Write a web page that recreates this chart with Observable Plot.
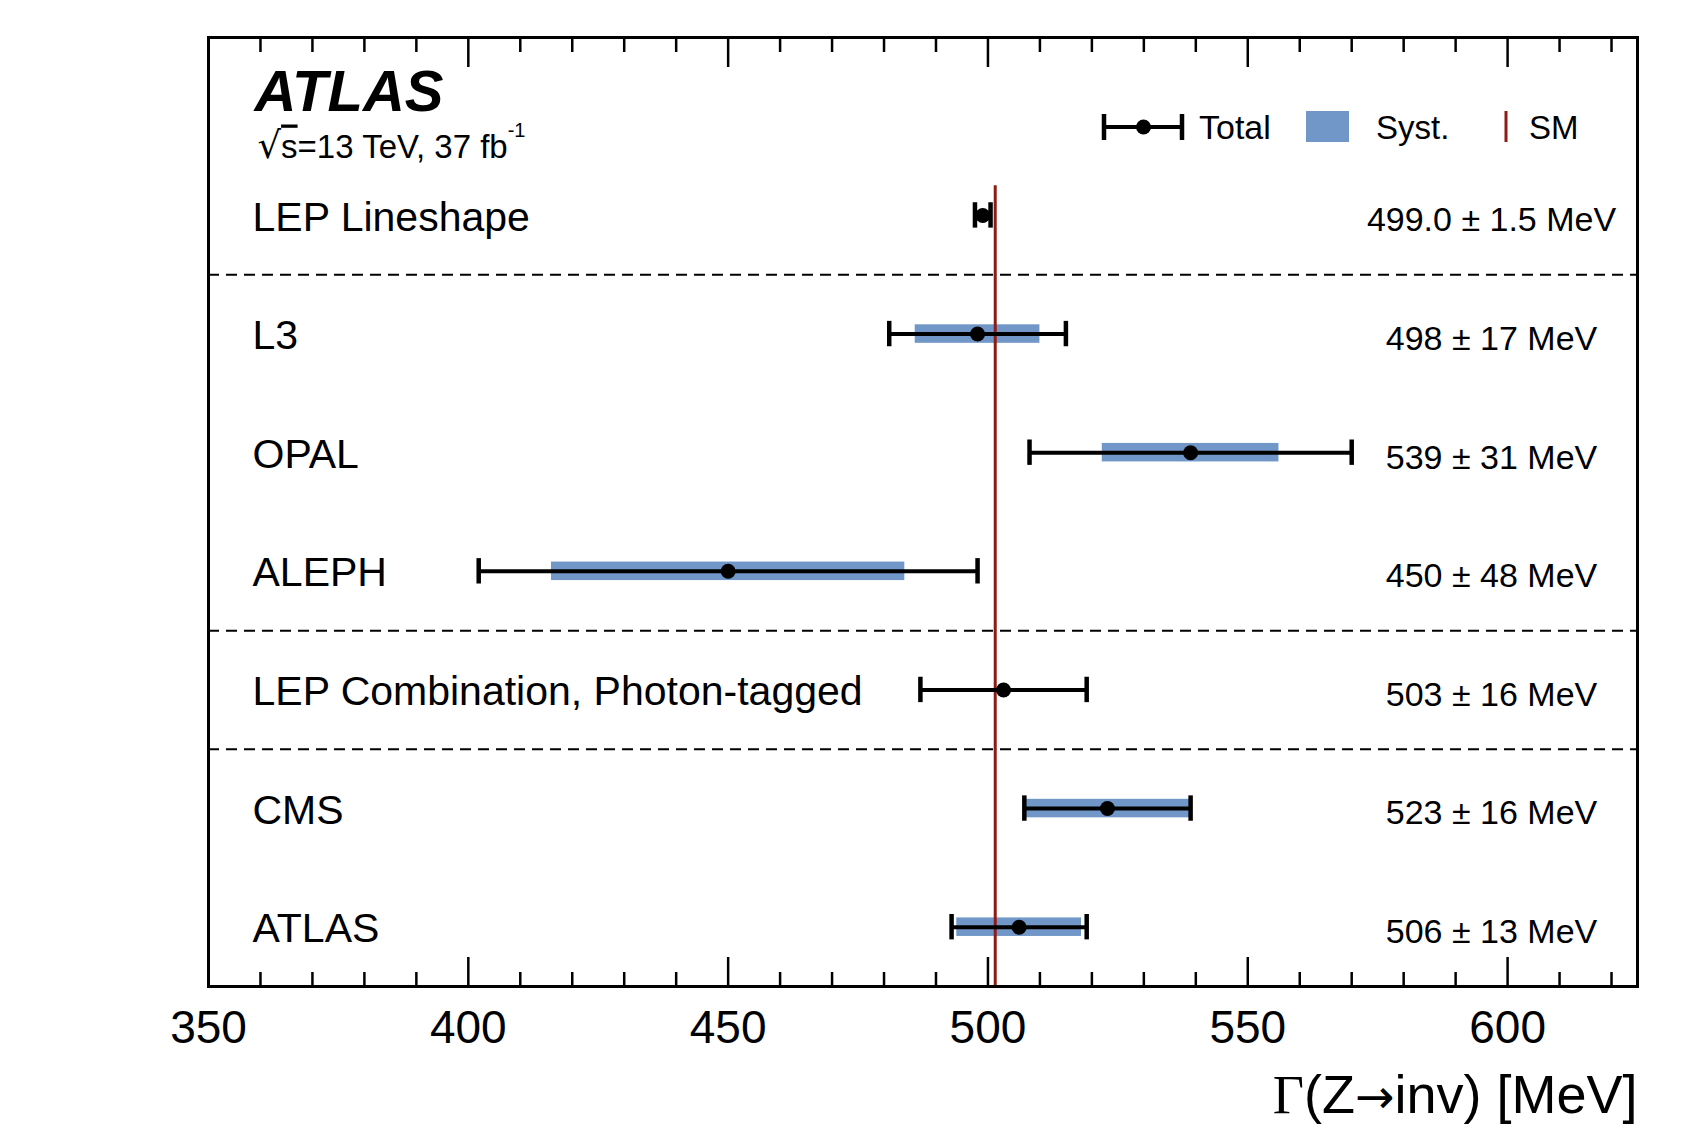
<!DOCTYPE html>
<html>
<head>
<meta charset="utf-8">
<script src="https://cdn.jsdelivr.net/npm/d3@7"></script>
<script src="https://cdn.jsdelivr.net/npm/@observablehq/plot@0.6"></script>
<style>
  html, body { margin: 0; padding: 0; background: #fff; }
  #chart svg { display: block; }
</style>
</head>
<body>
<div id="chart"></div>
<script>
// ---------------- data ----------------
const experiments = [
  "LEP Lineshape",
  "L3",
  "OPAL",
  "ALEPH",
  "LEP Combination, Photon-tagged",
  "CMS",
  "ATLAS"
];
const centralValues = [499.0, 498, 539, 450, 503, 523, 506];
const totalErrors   = [1.5, 17, 31, 48, 16, 16, 13];
const systErrors    = [null, 12, 17, 34, null, 16, 12];
const valueLabels = [
  "499.0 ± 1.5 MeV",
  "498 ± 17 MeV",
  "539 ± 31 MeV",
  "450 ± 48 MeV",
  "503 ± 16 MeV",
  "523 ± 16 MeV",
  "506 ± 13 MeV"
];
const smPrediction = 501.4;
const separatorPositions = [0.5, 3.5, 4.5];
const majorTicks = [350, 400, 450, 500, 550, 600];
const minorTicks = [360, 370, 380, 390, 410, 420, 430, 440, 460, 470, 480, 490,
                    510, 520, 530, 540, 560, 570, 580, 590, 610, 620];
const axisTitle = "Γ(Z→inv) [MeV]";
const experimentTitle = "ATLAS";
const energyLabel = "√s=13 TeV, 37 fb-1";
const legendLabels = ["Total", "Syst.", "SM"];

// ---------------- build ----------------
const rows = experiments.map((name, i) => ({
  name, i,
  c: centralValues[i],
  tot: totalErrors[i],
  syst: systErrors[i],
  label: valueLabels[i]
}));
const systRows = rows.filter(d => d.syst != null);

const BLUE = "#7097c8";
const RED = "#8e1b14";
const FONT = "'Liberation Sans', Arial, Helvetica, sans-serif";
const capHalf = 0.107;   // half height of error-bar caps, in row units
const bandHalf = 0.078;  // half height of syst band, in row units

const chart = Plot.plot({
  width: 1690,
  height: 1148,
  marginLeft: 208,
  marginRight: 53,
  marginTop: 37,
  marginBottom: 162,
  style: { fontFamily: FONT, background: "#fff", color: "#000", overflow: "visible" },
  x: { domain: [350, 625] },
  y: { domain: [6.5, -1.5], axis: null },
  marks: [
    // systematic bands
    Plot.rect(systRows, {
      x1: d => d.c - d.syst, x2: d => d.c + d.syst,
      y1: d => d.i - bandHalf, y2: d => d.i + bandHalf,
      fill: BLUE
    }),
    // SM prediction
    Plot.ruleX([smPrediction], { y1: -0.25, y2: 6.5, stroke: RED, strokeWidth: 3 }),
    // dashed separators
    Plot.ruleY(separatorPositions, { stroke: "#000", strokeWidth: 2, strokeDasharray: "11,7" }),
    // total error bars
    Plot.ruleY(rows, { x1: d => d.c - d.tot, x2: d => d.c + d.tot, y: "i", stroke: "#000", strokeWidth: 4 }),
    Plot.ruleX(rows, { x: d => d.c - d.tot, y1: d => d.i - capHalf, y2: d => d.i + capHalf, stroke: "#000", strokeWidth: 4.5 }),
    Plot.ruleX(rows, { x: d => d.c + d.tot, y1: d => d.i - capHalf, y2: d => d.i + capHalf, stroke: "#000", strokeWidth: 4.5 }),
    Plot.dot(rows, { x: "c", y: "i", r: 7.5, fill: "#000", stroke: null }),
    // labels
    Plot.text(rows, { y: "i", text: "name", frameAnchor: "left", dx: 44, dy: 2, textAnchor: "start", fontSize: 41, fill: "#000" }),
    Plot.text(rows, { y: "i", text: "label", frameAnchor: "right", dx: -146, dy: 5, textAnchor: "middle", fontSize: 34, fill: "#000" }),
    // ATLAS title
    Plot.text([experimentTitle], { text: d => d, frameAnchor: "top-left", dx: 46, dy: 73, lineAnchor: "bottom", textAnchor: "start", fontSize: 58, fontWeight: "bold", fontStyle: "italic", fill: "#000" }),
    Plot.text([energyLabel], { text: d => d, frameAnchor: "top-left", dx: 49, dy: 120, lineAnchor: "bottom", textAnchor: "start", fontSize: 33, fill: "#000" }),
    // axis title
    Plot.text([axisTitle], { text: d => d, frameAnchor: "bottom-right", dy: 126, lineAnchor: "bottom", textAnchor: "end", fontSize: 54, fill: "#000" }),
    // axes: labels
    Plot.axisX(majorTicks, { anchor: "bottom", tickSize: 0, tickPadding: 24, fontSize: 46, label: null }),
    // axes: inward ticks bottom and top
    Plot.axisX(majorTicks, { anchor: "bottom", tickSize: -29, strokeWidth: 2.5, fill: "none", label: null }),
    Plot.axisX(minorTicks, { anchor: "bottom", tickSize: -14, strokeWidth: 2.5, fill: "none", label: null }),
    Plot.axisX(majorTicks, { anchor: "top", tickSize: -29, strokeWidth: 2.5, fill: "none", label: null }),
    Plot.axisX(minorTicks, { anchor: "top", tickSize: -14, strokeWidth: 2.5, fill: "none", label: null }),
    // frame
    Plot.frame({ stroke: "#000", strokeWidth: 3 })
  ]
});

const svg = d3.select(chart);

// ---------------- rich text (radical, superscript, serif Gamma, arrow) ----------------
function richText(content, parts) {
  svg.selectAll("text").filter(function () { return this.textContent === content; }).each(function () {
    const t = d3.select(this);
    t.text(null);
    for (const p of parts) {
      const ts = t.append("tspan").text(p.text);
      for (const [k, v] of Object.entries(p.attrs || {})) ts.attr(k, v);
    }
  });
}
richText(energyLabel, [
  { text: "√", attrs: { "font-size": 37, "font-family": "'DejaVu Sans', sans-serif" } },
  { text: "s", attrs: { "text-decoration": "overline" } },
  { text: "=13 TeV, 37 fb" },
  { text: "-1", attrs: { "font-size": 20, dy: -21 } }
]);
richText(axisTitle, [
  { text: "Γ", attrs: { "font-family": "'Liberation Serif', 'Times New Roman', serif" } },
  { text: "(Z" },
  { text: "→", attrs: { "font-family": "'DejaVu Sans', sans-serif", "font-size": 47 } },
  { text: "inv) [MeV]" }
]);

// ---------------- legend (inside the frame) ----------------
const lg = svg.append("g").attr("class", "legend").attr("font-family", FONT).attr("fill", "#000").attr("text-anchor", "start");
const ly = 127;
// Total
lg.append("line").attr("x1", 1103).attr("x2", 1183).attr("y1", ly).attr("y2", ly).attr("stroke", "#000").attr("stroke-width", 4);
lg.append("line").attr("x1", 1104).attr("x2", 1104).attr("y1", ly - 13).attr("y2", ly + 13).attr("stroke", "#000").attr("stroke-width", 4.5);
lg.append("line").attr("x1", 1182).attr("x2", 1182).attr("y1", ly - 13).attr("y2", ly + 13).attr("stroke", "#000").attr("stroke-width", 4.5);
lg.append("circle").attr("cx", 1143.5).attr("cy", ly).attr("r", 7.5).attr("fill", "#000");
lg.append("text").attr("x", 1199).attr("y", ly).attr("dy", "0.36em").attr("font-size", 34).text(legendLabels[0]);
// Syst.
lg.append("rect").attr("x", 1306).attr("y", ly - 16).attr("width", 43).attr("height", 31).attr("fill", BLUE);
lg.append("text").attr("x", 1376).attr("y", ly).attr("dy", "0.36em").attr("font-size", 33).text(legendLabels[1]);
// SM
lg.append("line").attr("x1", 1506).attr("x2", 1506).attr("y1", ly - 16).attr("y2", ly + 15).attr("stroke", RED).attr("stroke-width", 3);
lg.append("text").attr("x", 1529).attr("y", ly).attr("dy", "0.36em").attr("font-size", 33).text(legendLabels[2]);

document.getElementById("chart").appendChild(chart);
</script>
</body>
</html>
